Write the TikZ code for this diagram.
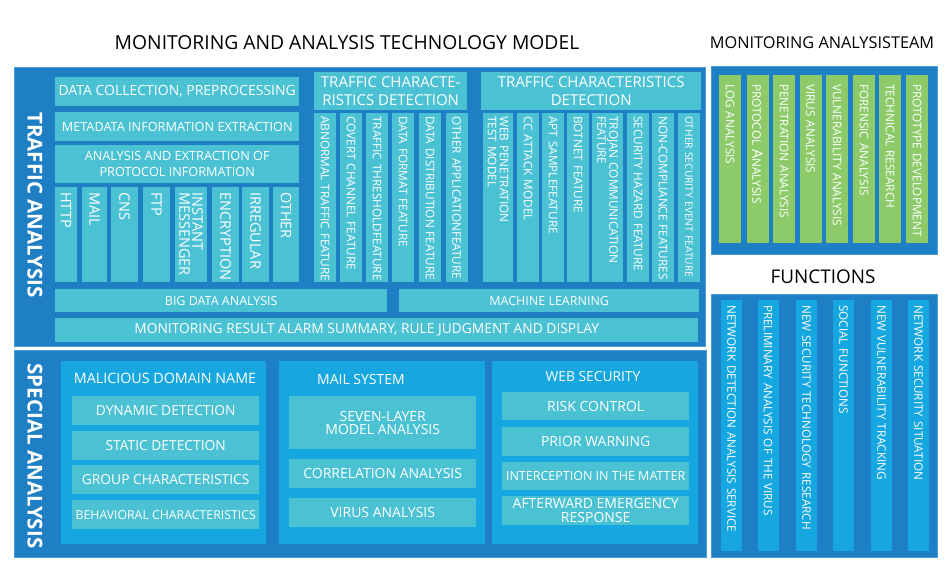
\documentclass[tikz,border=0pt]{standalone}
\usepackage{fontspec}
\setmainfont{Open Sans}
\definecolor{frameblue}{HTML}{1F7FC4}
\definecolor{frameedge}{HTML}{4A9CD6}
\definecolor{panelblue}{HTML}{16A7E0}
\definecolor{tealbox}{HTML}{4AC2D3}
\definecolor{greencol}{HTML}{8DCB6A}
\tikzset{
  txt/.style 2 args={font=\fontsize{#1}{#2}\selectfont},
  frame/.style={fill=frameblue, draw=frameedge, line width=0.8pt},
  panel/.style={fill=panelblue},
  hbox/.style={fill=tealbox, text=white, inner sep=0pt, align=center, anchor=north west},
  vcol/.style={rotate=-90, anchor=west, text=white, inner ysep=0pt, align=left,
    execute at begin node={\hyphenpenalty=10000 \exhyphenpenalty=10000 }},
  sidelabel/.style={rotate=-90, text=white, font=\fontsize{20.5}{24}\selectfont\bfseries},
  heading/.style={text=black, inner sep=0pt},
  paneltitle/.style={text=white, inner sep=0pt, txt={14}{16}}
}
\begin{document}
\begin{tikzpicture}[x=1pt, y=-1pt]
    \useasboundingbox (0,0) rectangle (950,585);

    % Draw headings
    \node[heading, txt={19.3}{22}] (model) at (347,43) {MONITORING AND ANALYSIS TECHNOLOGY MODEL};
    \node[heading, txt={16.3}{19}] (team) at (822,43) {MONITORING ANALYSISTEAM};
    \node[heading, txt={18.9}{22}] (func) at (823,277) {FUNCTIONS};

    % Draw frames
    \filldraw[frame] (14,67) rectangle (705,346);
    \filldraw[frame] (14,350) rectangle (706,557);
    \filldraw[frame] (711,66) rectangle (937,254);
    \filldraw[frame] (711,294) rectangle (937,557);

    % Traffic analysis
    \node[sidelabel] (traffic) at (35,205) {TRAFFIC ANALYSIS};
    \node[hbox, minimum width=244pt, minimum height=29pt, txt={14}{16}] (collect) at (55,77) {DATA COLLECTION, PREPROCESSING};
    \node[hbox, minimum width=244pt, minimum height=29pt, txt={12.7}{15}] (meta) at (55,112) {METADATA INFORMATION EXTRACTION};
    \node[hbox, minimum width=244pt, minimum height=38pt, txt={12.7}{16}] (extract) at (55,145) {ANALYSIS AND EXTRACTION OF\\PROTOCOL INFORMATION};
    \node[hbox, minimum width=153pt, minimum height=38pt, txt={15}{18}] (detect1) at (314,72) {TRAFFIC CHARACTE-\\RISTICS DETECTION};
    \node[hbox, minimum width=220pt, minimum height=38pt, txt={15}{18}] (detect2) at (481,72) {TRAFFIC CHARACTERISTICS\\DETECTION};

    \foreach \cx/\w/\txt [count=\i] in {66/22/HTTP, 94.5/25/MAIL, 124.5/27/CNS, 156.5/27/FTP,
        191/32/{INSTANT\\MESSENGER}, 225.5/27/ENCRYPTION, 255.5/27/IRREGULAR, 286/26/OTHER}
        \node[vcol, fill=tealbox, inner xsep=5pt, text width=85pt, minimum height=\w pt, txt={14.5}{13}] (proto\i) at (\cx,187) {\txt};

    \foreach \cx/\txt [count=\i] in {325/ABNORMAL~TRAFFIC~FEATURE, 351/COVERT~CHANNEL~FEATURE,
        377/TRAFFIC~THRESHOLDFEATURE, 403/DATA~FORMAT~FEATURE, 430/DATA~DISTRIBUTION~FEATURE,
        456.5/OTHER~APPLICATIONFEATURE}
        \node[vcol, fill=tealbox, inner xsep=3pt, text width=163pt, minimum height=22pt, txt={11.8}{12}] (feat\i) at (\cx,113) {\txt};

    \foreach \cx/\w/\fs/\txt [count=\i] in {498/30/11.8/{WEB PENETRATION\\TEST MODEL}, 528/22/11.8/CC~ATTACK~MODEL,
        553/22/11.8/APT~SAMPLEFEATURE, 578/22/11.8/BOTNET~FEATURE, 607.5/31/11.8/{TROJAN COMMUNICATION\\FEATURE},
        638/22/11.8/SECURITY~HAZARD~FEATURE, 663/22/11.8/NON-COMPLIANCE~FEATURES, 689/22/10.2/OTHER~SECURITY~EVENT~FEATURE}
        \node[vcol, fill=tealbox, inner xsep=3pt, text width=163pt, minimum height=\w pt, txt={\fs}{12}] (sec\i) at (\cx,113) {\txt};

    \node[hbox, minimum width=332pt, minimum height=23pt, txt={12.5}{15}] (bigdata) at (55,289) {BIG DATA ANALYSIS};
    \node[hbox, minimum width=300pt, minimum height=23pt, txt={12.5}{15}] (learn) at (399,289) {MACHINE LEARNING};
    \node[hbox, minimum width=643pt, minimum height=24pt, txt={13.8}{16}] (alarm) at (55,318) {MONITORING RESULT ALARM SUMMARY, RULE JUDGMENT AND DISPLAY\hspace{20pt}};

    % Special analysis
    \node[sidelabel] (special) at (35,456) {SPECIAL ANALYSIS};
    \fill[panel] (61,361) rectangle (266,544);
    \fill[panel] (279,361) rectangle (485,544);
    \fill[panel] (492,361) rectangle (698,544);

    \node[paneltitle, txt={14.3}{16}] (domain) at (165,378) {MALICIOUS DOMAIN NAME};
    \node[hbox, minimum width=187pt, minimum height=29pt, txt={13.8}{16}] (dynamic) at (72,396) {DYNAMIC DETECTION};
    \node[hbox, minimum width=187pt, minimum height=29pt, txt={13.8}{16}] (static) at (72,431) {STATIC DETECTION};
    \node[hbox, minimum width=187pt, minimum height=29pt, txt={13.8}{16}] (group) at (72,465) {GROUP CHARACTERISTICS};
    \node[hbox, minimum width=187pt, minimum height=29pt, txt={12.3}{15}] (behave) at (72,500) {BEHAVIORAL CHARACTERISTICS};

    \node[paneltitle] (mail) at (361,379) {MAIL SYSTEM};
    \node[hbox, minimum width=187pt, minimum height=53pt, txt={14}{13}] (seven) at (289,396) {SEVEN-LAYER\\MODEL ANALYSIS};
    \node[hbox, minimum width=187pt, minimum height=29pt, txt={14}{16}] (correl) at (289,459) {CORRELATION ANALYSIS};
    \node[hbox, minimum width=187pt, minimum height=29pt, txt={14}{16}] (virus) at (289,498) {VIRUS ANALYSIS};

    \node[paneltitle, txt={13.8}{16}] (web) at (593,377) {WEB SECURITY};
    \node[hbox, minimum width=187pt, minimum height=28pt, txt={14}{16}] (risk) at (502,392) {RISK CONTROL};
    \node[hbox, minimum width=187pt, minimum height=29pt, txt={14}{16}] (prior) at (502,427) {PRIOR WARNING};
    \node[hbox, minimum width=187pt, minimum height=28pt, txt={12.5}{15}] (intercept) at (502,462) {INTERCEPTION IN THE MATTER};
    \node[hbox, minimum width=187pt, minimum height=29pt, txt={14}{14}] (after) at (502,496) {AFTERWARD EMERGENCY\\RESPONSE};

    % Team columns
    \foreach \cx/\txt [count=\i] in {730/LOG~ANALYSIS, 757.5/PROTOCOL~{\fontsize{14.5}{12}\selectfont A}NALYSIS,
        784/PENETRATION~ANALYSIS, 810.5/VIRUS~ANALYSIS, 837/VULNERABILITY~ANALYSIS,
        864/FORENSIC~ANALYSIS, 890/TECHNICAL~RESEARCH, 917/PROTOTYPE~DEVELOPMENT}
        \node[vcol, fill=greencol, inner xsep=9pt, text width=150pt, minimum height=22pt, txt={11.8}{12}] (team\i) at (\cx,75) {\txt};

    % Function columns
    \foreach \cx/\txt [count=\i] in {731.5/NETWORK DETECTION ANALYSIS SERVICE, 768/PRELIMINARY ANALYSIS OF THE VIRUS,
        806.5/NEW SECURITY TECHNOLOGY RESEARCH, 843.5/SOCIAL FUNCTIONS, 881.5/NEW VULNERABILITY TRACKING,
        918.5/NETWORK SECURITY SITUATION}
        \node[vcol, fill=panelblue, inner xsep=5pt, text width=241pt, minimum height=21pt, txt={11.7}{12}] (func\i) at (\cx,300) {\txt};
\end{tikzpicture}
\end{document}
